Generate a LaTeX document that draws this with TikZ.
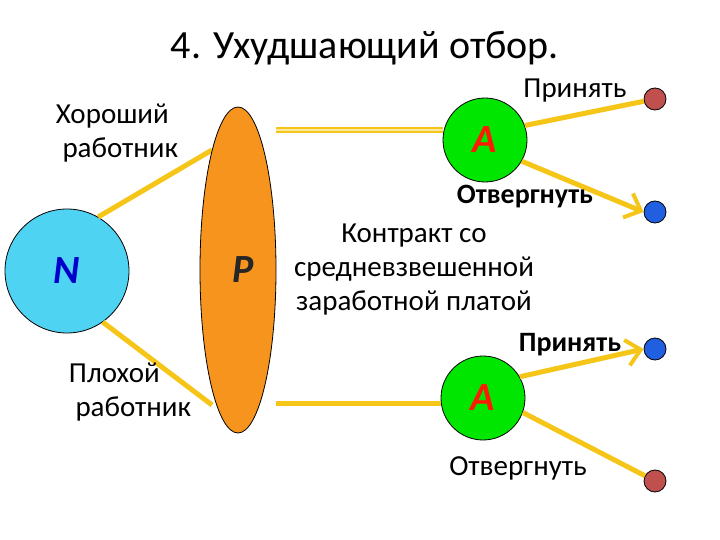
\documentclass[tikz,border=0pt]{standalone}
\usepackage{fontspec}
\setmainfont{Carlito}
\usetikzlibrary{arrows.meta,shapes.geometric}
\definecolor{ylw}{HTML}{F5C518}
\definecolor{cyn}{HTML}{4FD3F2}
\definecolor{org}{HTML}{F7941D}
\definecolor{grn}{HTML}{00E600}
\definecolor{rdot}{HTML}{C0504D}
\definecolor{bdot}{HTML}{1F5FE0}
\begin{document}
\begin{tikzpicture}[x=1pt,y=-1pt,
  yl/.style={ylw,line width=5pt},
  ar/.style={yl,-{Straight Barb[length=14pt,width=26pt,line width=4pt]}},
  anode/.style={circle,draw,thick,fill=grn,minimum size=84pt,text=red!80!orange,font=\fontsize{40}{40}\selectfont\bfseries\itshape},
  dot/.style={circle,draw,thick,minimum size=22pt,inner sep=0pt},
  lbl/.style={font=\fontsize{29}{34}\selectfont,align=center},
  blbl/.style={font=\fontsize{28}{34}\selectfont\bfseries,align=center}]
\useasboundingbox (0,0) rectangle (720,540);
\node[font=\fontsize{40}{44}\selectfont] (t) at (365,48) {4. Ухудшающий отбор.};
\node[circle,draw,thick,fill=cyn,minimum size=124pt,text=blue!80!black,font=\fontsize{40}{40}\selectfont\bfseries\itshape] (N) at (67,271) {N};
\coordinate (p1) at (212,150);
\coordinate (p2) at (212,405);
\draw[yl] (N.60) -- (p1);
\draw[yl] (N.-55) -- (p2);
\node[ellipse,draw,thick,fill=org,minimum width=76pt,minimum height=326pt] (P) at (238,270) {};
\node[text=black!85,font=\fontsize{40}{40}\selectfont\bfseries\itshape] (Pl) at (243,270) {P};
\node[anode] (A1) at (485,140) {A};
\node[anode] (A2) at (483,398) {A};
\node[dot,fill=rdot] (d1) at (655,99) {};
\node[dot,fill=bdot] (d2) at (655,212) {};
\node[dot,fill=bdot] (d3) at (655,349) {};
\node[dot,fill=rdot] (d4) at (655,481) {};
\draw[ylw,line width=6pt] (P.east |- 0,130) -- (A1.west |- 0,130);
\draw[ylw!40,line width=2pt] (P.east |- 0,130) -- (A1.west |- 0,130);
\draw[yl] (P.east |- 0,403) -- (A2.west |- 0,403);
\draw[yl] (A1.20) -- (d1);
\draw[ar] (A1.-30) -- (d2.west);
\draw[ar] (A2.30) -- (d3.west);
\draw[yl] (A2.-20) -- (d4);
\node[lbl,align=left] (h) at (117,133) {Хороший\\ \ работник};
\node[lbl,align=left] (b) at (130,392) {Плохой\\ \ работник};
\node[lbl] (pr1) at (575,91) {Принять};
\node[blbl] (ot1) at (525,197) {Отвергнуть};
\node[lbl] (k) at (414,270) {Контракт со\\средневзвешенной\\заработной платой};
\node[blbl] (pr2) at (570,345) {Принять};
\node[lbl] (ot2) at (518,468) {Отвергнуть};
\end{tikzpicture}
\end{document}
